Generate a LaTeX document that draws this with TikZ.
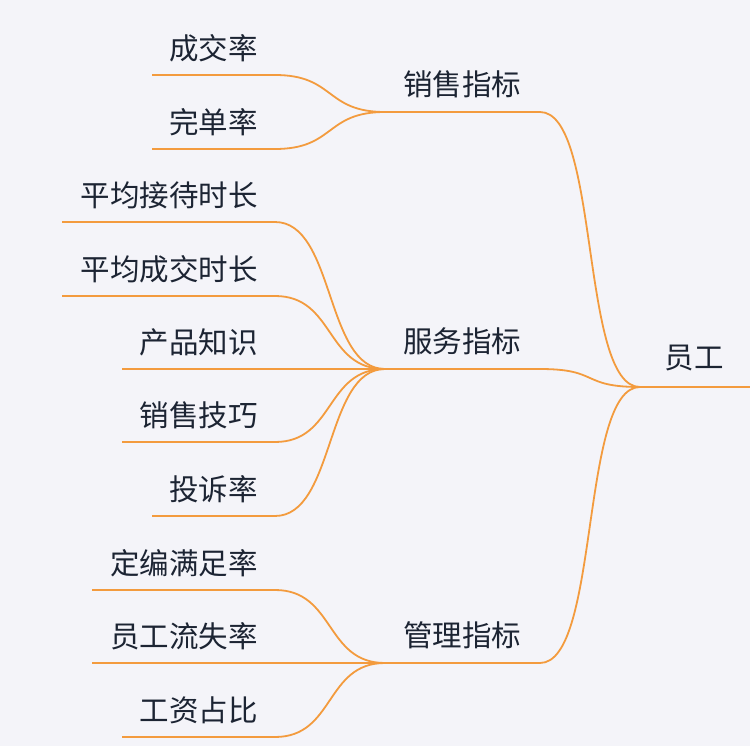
\documentclass[tikz,border=0pt]{standalone}
\usepackage{fontspec}
\setmainfont{Noto Sans CJK SC}
\definecolor{bg}{HTML}{F4F4F9}
\definecolor{ln}{HTML}{F39B3E}
\definecolor{tx}{HTML}{1C2433}
\begin{document}
\begin{tikzpicture}[x=1pt,y=-1pt,
  lbl/.style={text=tx,font=\fontsize{29.5}{32}\selectfont,inner sep=0pt},
  con/.style={draw=ln,line width=1.8pt}]
\fill[bg] (0,0) rectangle (750,746);
\useasboundingbox (0,0) rectangle (750,746);
% root
\node[lbl] (root) at (694,358) {员工};
\coordinate (rl) at (640,387); \coordinate (rr) at (750,387);
\draw[con] (rl) -- (rr);
% branches
\foreach \n/\t/\y in {b1/销售指标/112, b2/服务指标/369, b3/管理指标/663}{
  \node[lbl] (\n) at (462,\y-28) {\t};
  \coordinate (\n-l) at (385,\y); \coordinate (\n-r) at (540,\y);
  \draw[con] (\n-l) -- (\n-r);
  \draw[con] (\n-r) .. controls (600,\y) and (580,387) .. (rl);
}
% leaves
\foreach \n/\t/\y/\x/\p/\by in {l1/成交率/75/152/b1/112, l2/完单率/149/152/b1/112,
  l3/平均接待时长/222/62/b2/369, l4/平均成交时长/296/62/b2/369, l5/产品知识/369/122/b2/369,
  l6/销售技巧/442/122/b2/369, l7/投诉率/516/152/b2/369,
  l8/定编满足率/590/92/b3/663, l9/员工流失率/663/92/b3/663, l10/工资占比/737/122/b3/663}{
  \node[lbl,anchor=east] (\n) at (258,\y-27) {\t};
  \coordinate (\n-l) at (\x,\y); \coordinate (\n-r) at (275,\y);
  \draw[con] (\n-l) -- (\n-r);
  \draw[con] (\n-r) .. controls (335,\y) and (325,\by) .. (\p-l);
}
\end{tikzpicture}
\end{document}
